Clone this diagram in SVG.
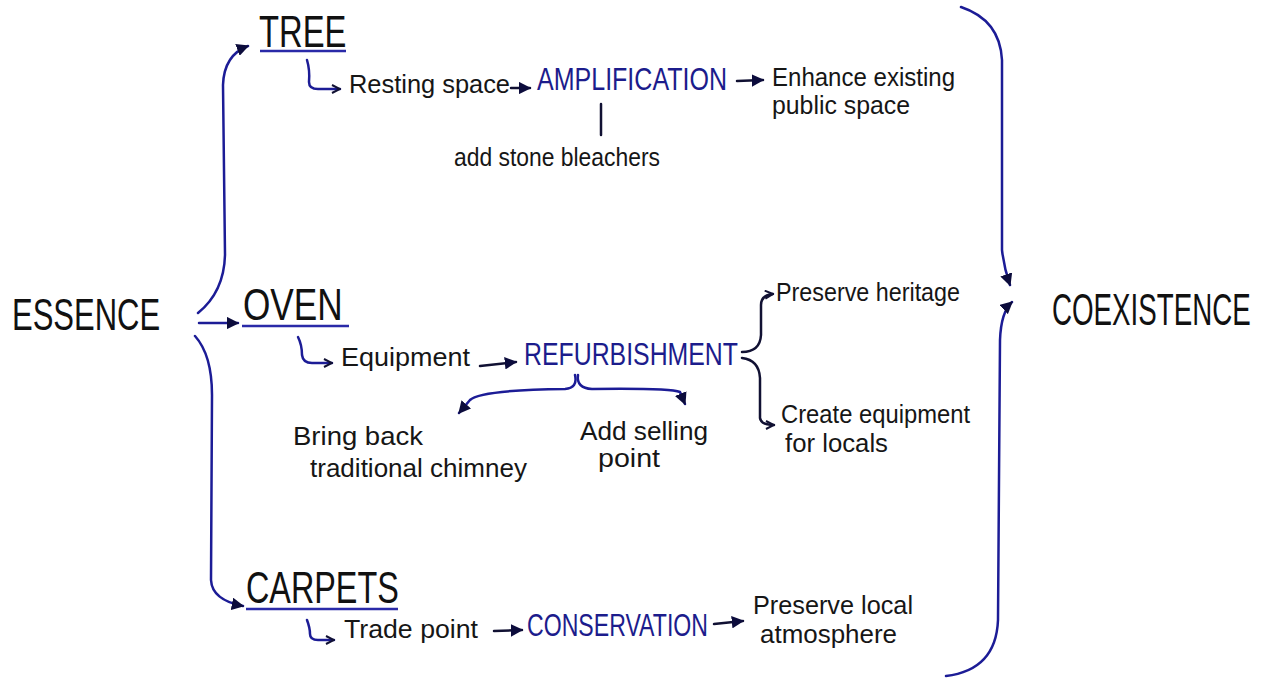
<svg xmlns="http://www.w3.org/2000/svg" width="1264" height="679" viewBox="0 0 1264 679">
<defs>
<style>
.big{font-family:"Liberation Sans",Arial,sans-serif;font-size:44px;fill:#111}
.blue{font-family:"Liberation Sans",Arial,sans-serif;font-size:31px;fill:#1c1c8c}
.sm{font-family:"Liberation Sans",Arial,sans-serif;font-size:25px;fill:#161616}
.ul{stroke:#2a2aa8;stroke-width:2.5;fill:none}
.c{stroke:#1c1c96;stroke-width:2.5;fill:none;stroke-linecap:round;stroke-linejoin:round}
.k{stroke:#111133;stroke-width:2.5;fill:none;stroke-linecap:round}
</style>
<marker id="tri" viewBox="0 0 10 10" refX="9" refY="5" markerWidth="5" markerHeight="5" orient="auto" markerUnits="strokeWidth">
<path d="M0,0 L10,5 L0,10 z" fill="#0c0c3c"/>
</marker>
<marker id="chev" viewBox="0 0 10 10" refX="9" refY="5" markerWidth="4" markerHeight="4" orient="auto" markerUnits="strokeWidth">
<path d="M1,1 L9,5 L1,9" fill="none" stroke="#111133" stroke-width="2"/>
</marker>
</defs>
<rect width="1264" height="679" fill="#fff"/>

<g id="connectors">
<path class="c" d="M198,313 Q224,292 225,255 L223,85 Q224,55 248,46" marker-end="url(#tri)"/>
<path class="c" d="M199,323 L238,323" marker-end="url(#tri)"/>
<path class="c" d="M195,336 Q212,355 212,395 L211,580 Q212,600 243,606" marker-end="url(#tri)"/>
<path class="c" d="M307,60 Q310,70 309,82 Q309,89 318,89 L340,89" marker-end="url(#chev)"/>
<path class="k" d="M511,88 L530,88" marker-end="url(#tri)"/>
<path class="k" d="M737,81 L763,80" marker-end="url(#tri)"/>
<path class="k" d="M601,104 L601,135"/>
<path class="c" d="M298,337 Q302,345 302,355 Q303,363 312,363 L332,363" marker-end="url(#chev)"/>
<path class="k" d="M480,366 L516,362" marker-end="url(#tri)"/>
<path class="k" d="M742,352 Q760,352 761,335 L761,305 Q761,295 773,294" marker-end="url(#chev)"/>
<path class="k" d="M742,358 Q759,360 760,378 L760,418 Q761,425 774,425" marker-end="url(#chev)"/>
<path class="c" d="M575,375 Q578,388 565,389 Q480,390 470,400 L459,413" marker-end="url(#tri)"/>
<path class="c" d="M578,375 Q576,388 592,389 Q670,388 680,392 L685,404" marker-end="url(#tri)"/>
<path class="c" d="M307,620 Q310,628 310,634 Q310,640 318,640 L334,640" marker-end="url(#chev)"/>
<path class="k" d="M494,631 L522,630" marker-end="url(#tri)"/>
<path class="k" d="M714,624 L743,621" marker-end="url(#tri)"/>
<path class="c" d="M961,7 Q1000,20 1002,60 L1002,250 Q1004,268 1010,285" marker-end="url(#tri)"/>
<path class="c" d="M946,676 Q996,670 998,620 L1000,340 Q1001,312 1012,302" marker-end="url(#tri)"/>
</g>

<g id="essence"><text class="big" transform="translate(12,330) scale(0.705,1)" x="0" y="0">ESSENCE</text></g>
<g id="tree"><text class="big" transform="translate(259,47) scale(0.745,1)" x="0" y="0">TREE</text><path class="ul" d="M260,51 L346,51"/></g>
<g id="oven"><text class="big" transform="translate(243,320) scale(0.8,1)" x="0" y="0">OVEN</text><path class="ul" d="M242,326 L349,326"/></g>
<g id="carpets"><text class="big" transform="translate(246,603) scale(0.735,1)" x="0" y="0">CARPETS</text><path class="ul" d="M246,609 L398,609"/></g>
<g id="coexistence"><text class="big" transform="translate(1052,325) scale(0.63,1)" x="0" y="0">COEXISTENCE</text></g>

<g id="resting"><text class="sm" x="349" y="93" textLength="161" lengthAdjust="spacingAndGlyphs">Resting space</text></g>
<g id="amplification"><text class="blue" x="537" y="90" textLength="190" lengthAdjust="spacingAndGlyphs">AMPLIFICATION</text></g>
<g id="enhance"><text class="sm" x="772" y="86" textLength="183" lengthAdjust="spacingAndGlyphs">Enhance existing</text><text class="sm" x="772" y="114" textLength="138" lengthAdjust="spacingAndGlyphs">public space</text></g>
<g id="bleachers"><text class="sm" x="454" y="166" textLength="206" lengthAdjust="spacingAndGlyphs">add stone bleachers</text></g>

<g id="equipment"><text class="sm" x="341" y="366" textLength="129" lengthAdjust="spacingAndGlyphs">Equipment</text></g>
<g id="refurbishment"><text class="blue" x="524" y="365" textLength="214" lengthAdjust="spacingAndGlyphs">REFURBISHMENT</text></g>
<g id="heritage"><text class="sm" x="776" y="301" textLength="184" lengthAdjust="spacingAndGlyphs">Preserve heritage</text></g>
<g id="create"><text class="sm" x="781" y="423" textLength="189" lengthAdjust="spacingAndGlyphs">Create equipment</text><text class="sm" x="785" y="452" textLength="103" lengthAdjust="spacingAndGlyphs">for locals</text></g>
<g id="chimney"><text class="sm" x="293" y="445" textLength="130" lengthAdjust="spacingAndGlyphs">Bring back</text><text class="sm" x="310" y="477" textLength="217" lengthAdjust="spacingAndGlyphs">traditional chimney</text></g>
<g id="selling"><text class="sm" x="580" y="440" textLength="128" lengthAdjust="spacingAndGlyphs">Add selling</text><text class="sm" x="598" y="467" textLength="62" lengthAdjust="spacingAndGlyphs">point</text></g>

<g id="trade"><text class="sm" x="344" y="638" textLength="134" lengthAdjust="spacingAndGlyphs">Trade point</text></g>
<g id="conservation"><text class="blue" x="527" y="636" textLength="181" lengthAdjust="spacingAndGlyphs">CONSERVATION</text></g>
<g id="local"><text class="sm" x="753" y="614" textLength="160" lengthAdjust="spacingAndGlyphs">Preserve local</text><text class="sm" x="760" y="643" textLength="137" lengthAdjust="spacingAndGlyphs">atmosphere</text></g>
</svg>
